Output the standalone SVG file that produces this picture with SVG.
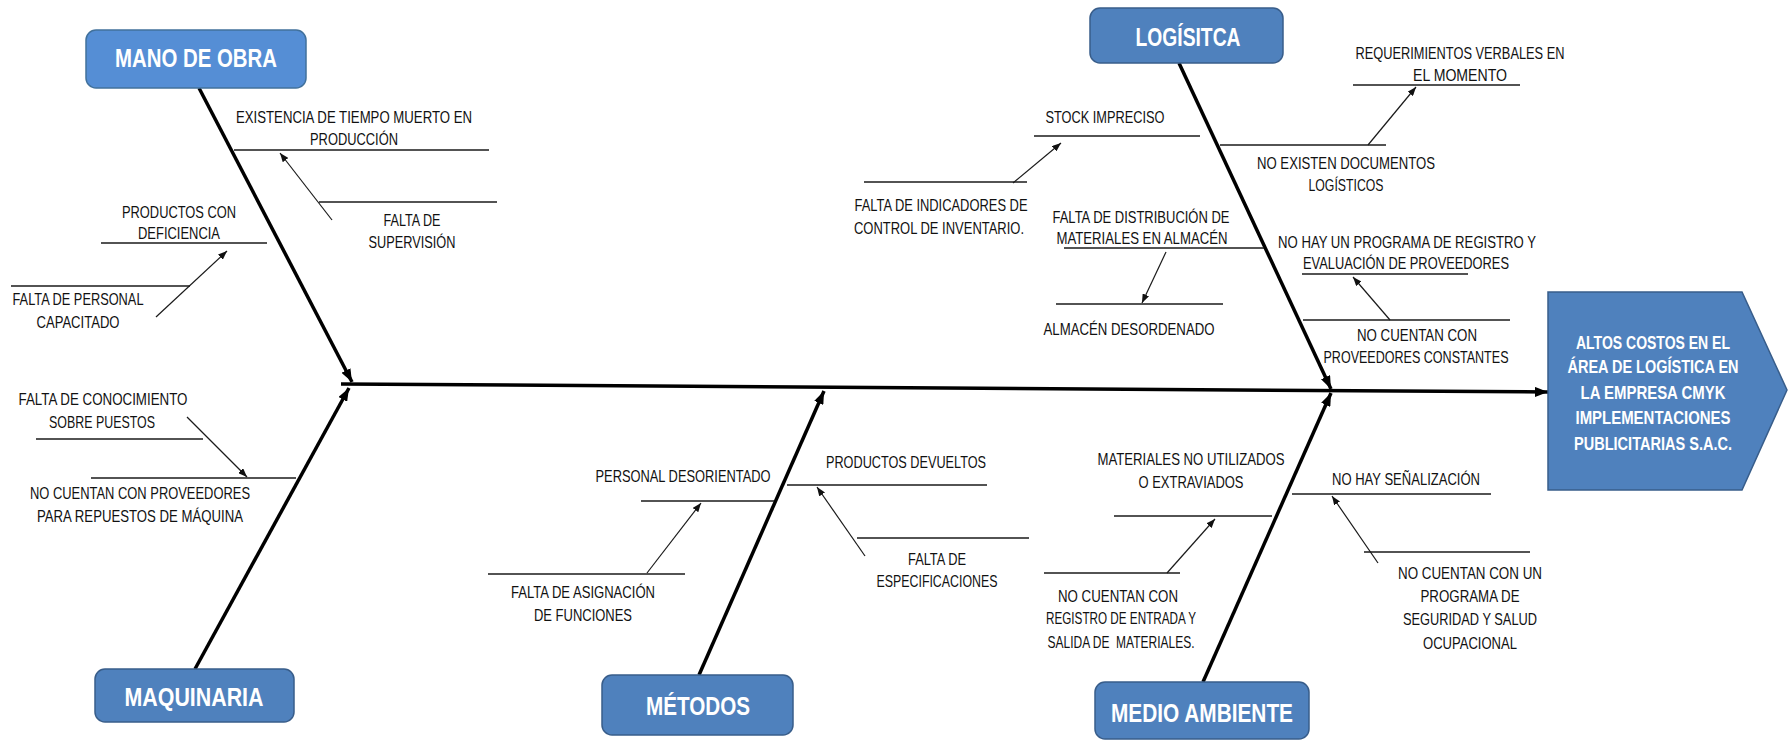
<svg xmlns="http://www.w3.org/2000/svg" width="1789" height="740" viewBox="0 0 1789 740">
<style>
.bg{fill:#ffffff}
.box{fill:#4F81BD;stroke:#385D8A;stroke-width:1.5}
.box2{fill:#558ED5;stroke:#41719C;stroke-width:1.5}
.hdr{font-family:"Liberation Sans",Arial,sans-serif;font-weight:bold;font-size:25px;fill:#ffffff;text-anchor:middle}
.eff{font-family:"Liberation Sans",Arial,sans-serif;font-weight:bold;font-size:19px;fill:#ffffff;text-anchor:middle}
.lbl{font-family:"Liberation Sans",Arial,sans-serif;font-size:16.5px;fill:#111111;text-anchor:middle}
.bone{stroke:#000000;stroke-width:3.5;fill:none}
.rib{stroke:#1a1a1a;stroke-width:1.4;fill:none}
.sub{stroke:#1a1a1a;stroke-width:1.2;fill:none}
</style>
<defs>
<marker id="big" markerUnits="userSpaceOnUse" markerWidth="14" markerHeight="10" refX="13" refY="5" orient="auto">
<path d="M0,0 L13,5 L0,10 Z" fill="#000000"/>
</marker>
<marker id="small" markerUnits="userSpaceOnUse" markerWidth="10" markerHeight="7" refX="9" refY="3.5" orient="auto">
<path d="M0,0 L9,3.5 L0,7 Z" fill="#111111"/>
</marker>
</defs>
<rect class="bg" x="0" y="0" width="1789" height="740"/>

<g id="connectors">
<line class="bone" x1="341" y1="384" x2="1548" y2="392" marker-end="url(#big)"/>
<line class="bone" x1="199" y1="88" x2="352" y2="382" marker-end="url(#big)"/>
<line class="bone" x1="195" y1="669" x2="349" y2="388" marker-end="url(#big)"/>
<line class="bone" x1="699" y1="675" x2="824" y2="391" marker-end="url(#big)"/>
<line class="bone" x1="1203" y1="682" x2="1331" y2="393" marker-end="url(#big)"/>
<line class="bone" x1="1179" y1="63" x2="1331" y2="389" marker-end="url(#big)"/>

<line class="rib" x1="234" y1="150" x2="489" y2="150"/>
<line class="rib" x1="319" y1="202" x2="497" y2="202"/>
<line class="rib" x1="101" y1="243" x2="267" y2="243"/>
<line class="rib" x1="11" y1="286" x2="190" y2="286"/>
<line class="rib" x1="36" y1="439" x2="203" y2="439"/>
<line class="rib" x1="91" y1="478" x2="296" y2="478"/>
<line class="rib" x1="641" y1="501" x2="774" y2="501"/>
<line class="rib" x1="488" y1="574" x2="685" y2="574"/>
<line class="rib" x1="787" y1="485" x2="987" y2="485"/>
<line class="rib" x1="857" y1="538" x2="1029" y2="538"/>
<line class="rib" x1="1114" y1="516" x2="1272" y2="516"/>
<line class="rib" x1="1044" y1="573" x2="1180" y2="573"/>
<line class="rib" x1="1292" y1="494" x2="1491" y2="494"/>
<line class="rib" x1="1364" y1="552" x2="1530" y2="552"/>
<line class="rib" x1="1034" y1="136" x2="1200" y2="136"/>
<line class="rib" x1="864" y1="182" x2="1027" y2="182"/>
<line class="rib" x1="1064" y1="248" x2="1264" y2="248"/>
<line class="rib" x1="1056" y1="304" x2="1223" y2="304"/>
<line class="rib" x1="1353" y1="85" x2="1520" y2="85"/>
<line class="rib" x1="1220" y1="145" x2="1386" y2="145"/>
<line class="rib" x1="1302" y1="274" x2="1468" y2="274"/>
<line class="rib" x1="1303" y1="320" x2="1510" y2="320"/>

<line class="sub" x1="332" y1="220" x2="280" y2="153" marker-end="url(#small)"/>
<line class="sub" x1="156" y1="317" x2="227" y2="251" marker-end="url(#small)"/>
<line class="sub" x1="187" y1="417" x2="247" y2="477" marker-end="url(#small)"/>
<line class="sub" x1="647" y1="573" x2="701" y2="503" marker-end="url(#small)"/>
<line class="sub" x1="865" y1="556" x2="817" y2="487" marker-end="url(#small)"/>
<line class="sub" x1="1167" y1="573" x2="1215" y2="519" marker-end="url(#small)"/>
<line class="sub" x1="1378" y1="563" x2="1332" y2="496" marker-end="url(#small)"/>
<line class="sub" x1="1013" y1="183" x2="1061" y2="143" marker-end="url(#small)"/>
<line class="sub" x1="1166" y1="252" x2="1142" y2="303" marker-end="url(#small)"/>
<line class="sub" x1="1368" y1="145" x2="1416" y2="87" marker-end="url(#small)"/>
<line class="sub" x1="1390" y1="320" x2="1353" y2="277" marker-end="url(#small)"/>
</g>

<g id="mano-de-obra">
<rect class="box2" x="86" y="30" width="220" height="58" rx="10"/>
<text class="hdr" x="196" y="67" textLength="162" lengthAdjust="spacingAndGlyphs">MANO DE OBRA</text>
</g>
<g id="maquinaria">
<rect class="box" x="95" y="669" width="199" height="53" rx="10"/>
<text class="hdr" x="194" y="706" textLength="139" lengthAdjust="spacingAndGlyphs">MAQUINARIA</text>
</g>
<g id="metodos">
<rect class="box" x="602" y="675" width="191" height="60" rx="10"/>
<text class="hdr" x="698" y="715" textLength="104" lengthAdjust="spacingAndGlyphs">MÉTODOS</text>
</g>
<g id="medio-ambiente">
<rect class="box" x="1095" y="682" width="214" height="57" rx="10"/>
<text class="hdr" x="1202" y="722" textLength="182" lengthAdjust="spacingAndGlyphs">MEDIO AMBIENTE</text>
</g>
<g id="logistica">
<rect class="box" x="1090" y="8" width="193" height="55" rx="10"/>
<text class="hdr" x="1188" y="46" textLength="105" lengthAdjust="spacingAndGlyphs">LOGÍSITCA</text>
</g>
<g id="efecto">
<path class="box" d="M1548,292 L1742,292 L1787,390 L1742,490 L1548,490 Z"/>
<text class="eff" x="1653" y="349" textLength="154" lengthAdjust="spacingAndGlyphs">ALTOS COSTOS EN EL</text>
<text class="eff" x="1653" y="373" textLength="171" lengthAdjust="spacingAndGlyphs">ÁREA DE LOGÍSTICA EN</text>
<text class="eff" x="1653" y="399" textLength="145" lengthAdjust="spacingAndGlyphs">LA EMPRESA CMYK</text>
<text class="eff" x="1653" y="424" textLength="155" lengthAdjust="spacingAndGlyphs">IMPLEMENTACIONES</text>
<text class="eff" x="1653" y="450" textLength="158" lengthAdjust="spacingAndGlyphs">PUBLICITARIAS S.A.C.</text>
</g>

<g id="labels-mano-de-obra">
<text class="lbl" x="354" y="123" textLength="236" lengthAdjust="spacingAndGlyphs">EXISTENCIA DE TIEMPO MUERTO EN</text>
<text class="lbl" x="354" y="145" textLength="88" lengthAdjust="spacingAndGlyphs">PRODUCCIÓN</text>
<text class="lbl" x="412" y="226" textLength="57" lengthAdjust="spacingAndGlyphs">FALTA DE</text>
<text class="lbl" x="412" y="248" textLength="87" lengthAdjust="spacingAndGlyphs">SUPERVISIÓN</text>
<text class="lbl" x="179" y="218" textLength="114" lengthAdjust="spacingAndGlyphs">PRODUCTOS CON</text>
<text class="lbl" x="179" y="239" textLength="82" lengthAdjust="spacingAndGlyphs">DEFICIENCIA</text>
<text class="lbl" x="78" y="305" textLength="131" lengthAdjust="spacingAndGlyphs">FALTA DE PERSONAL</text>
<text class="lbl" x="78" y="328" textLength="83" lengthAdjust="spacingAndGlyphs">CAPACITADO</text>
</g>
<g id="labels-maquinaria">
<text class="lbl" x="103" y="405" textLength="169" lengthAdjust="spacingAndGlyphs">FALTA DE CONOCIMIENTO</text>
<text class="lbl" x="102" y="428" textLength="106" lengthAdjust="spacingAndGlyphs">SOBRE PUESTOS</text>
<text class="lbl" x="140" y="499" textLength="220" lengthAdjust="spacingAndGlyphs">NO CUENTAN CON PROVEEDORES</text>
<text class="lbl" x="140" y="522" textLength="206" lengthAdjust="spacingAndGlyphs">PARA REPUESTOS DE MÁQUINA</text>
</g>
<g id="labels-metodos">
<text class="lbl" x="683" y="482" textLength="175" lengthAdjust="spacingAndGlyphs">PERSONAL DESORIENTADO</text>
<text class="lbl" x="583" y="598" textLength="144" lengthAdjust="spacingAndGlyphs">FALTA DE ASIGNACIÓN</text>
<text class="lbl" x="583" y="621" textLength="98" lengthAdjust="spacingAndGlyphs">DE FUNCIONES</text>
<text class="lbl" x="906" y="468" textLength="160" lengthAdjust="spacingAndGlyphs">PRODUCTOS DEVUELTOS</text>
<text class="lbl" x="937" y="565" textLength="58" lengthAdjust="spacingAndGlyphs">FALTA DE</text>
<text class="lbl" x="937" y="587" textLength="121" lengthAdjust="spacingAndGlyphs">ESPECIFICACIONES</text>
</g>
<g id="labels-medio-ambiente">
<text class="lbl" x="1191" y="465" textLength="187" lengthAdjust="spacingAndGlyphs">MATERIALES NO UTILIZADOS</text>
<text class="lbl" x="1191" y="488" textLength="105" lengthAdjust="spacingAndGlyphs">O EXTRAVIADOS</text>
<text class="lbl" x="1118" y="602" textLength="120" lengthAdjust="spacingAndGlyphs">NO CUENTAN CON</text>
<text class="lbl" x="1121" y="624" textLength="150" lengthAdjust="spacingAndGlyphs">REGISTRO DE ENTRADA Y</text>
<text class="lbl" x="1121" y="648" textLength="147" lengthAdjust="spacingAndGlyphs" xml:space="preserve">SALIDA DE  MATERIALES.</text>
<text class="lbl" x="1406" y="485" textLength="148" lengthAdjust="spacingAndGlyphs">NO HAY SEÑALIZACIÓN</text>
<text class="lbl" x="1470" y="579" textLength="144" lengthAdjust="spacingAndGlyphs">NO CUENTAN CON UN</text>
<text class="lbl" x="1470" y="602" textLength="99" lengthAdjust="spacingAndGlyphs">PROGRAMA DE</text>
<text class="lbl" x="1470" y="625" textLength="134" lengthAdjust="spacingAndGlyphs">SEGURIDAD Y SALUD</text>
<text class="lbl" x="1470" y="649" textLength="94" lengthAdjust="spacingAndGlyphs">OCUPACIONAL</text>
</g>
<g id="labels-logistica">
<text class="lbl" x="1105" y="123" textLength="119" lengthAdjust="spacingAndGlyphs">STOCK IMPRECISO</text>
<text class="lbl" x="941" y="211" textLength="173" lengthAdjust="spacingAndGlyphs">FALTA DE INDICADORES DE</text>
<text class="lbl" x="939" y="234" textLength="170" lengthAdjust="spacingAndGlyphs">CONTROL DE INVENTARIO.</text>
<text class="lbl" x="1141" y="223" textLength="177" lengthAdjust="spacingAndGlyphs">FALTA DE DISTRIBUCIÓN DE</text>
<text class="lbl" x="1142" y="244" textLength="171" lengthAdjust="spacingAndGlyphs">MATERIALES EN ALMACÉN</text>
<text class="lbl" x="1129" y="335" textLength="171" lengthAdjust="spacingAndGlyphs">ALMACÉN DESORDENADO</text>
<text class="lbl" x="1460" y="59" textLength="209" lengthAdjust="spacingAndGlyphs">REQUERIMIENTOS VERBALES EN</text>
<text class="lbl" x="1460" y="81" textLength="94" lengthAdjust="spacingAndGlyphs">EL MOMENTO</text>
<text class="lbl" x="1346" y="169" textLength="178" lengthAdjust="spacingAndGlyphs">NO EXISTEN DOCUMENTOS</text>
<text class="lbl" x="1346" y="191" textLength="75" lengthAdjust="spacingAndGlyphs">LOGÍSTICOS</text>
<text class="lbl" x="1407" y="248" textLength="258" lengthAdjust="spacingAndGlyphs">NO HAY UN PROGRAMA DE REGISTRO Y</text>
<text class="lbl" x="1406" y="269" textLength="206" lengthAdjust="spacingAndGlyphs">EVALUACIÓN DE PROVEEDORES</text>
<text class="lbl" x="1417" y="341" textLength="120" lengthAdjust="spacingAndGlyphs">NO CUENTAN CON</text>
<text class="lbl" x="1416" y="363" textLength="185" lengthAdjust="spacingAndGlyphs">PROVEEDORES CONSTANTES</text>
</g>
</svg>
